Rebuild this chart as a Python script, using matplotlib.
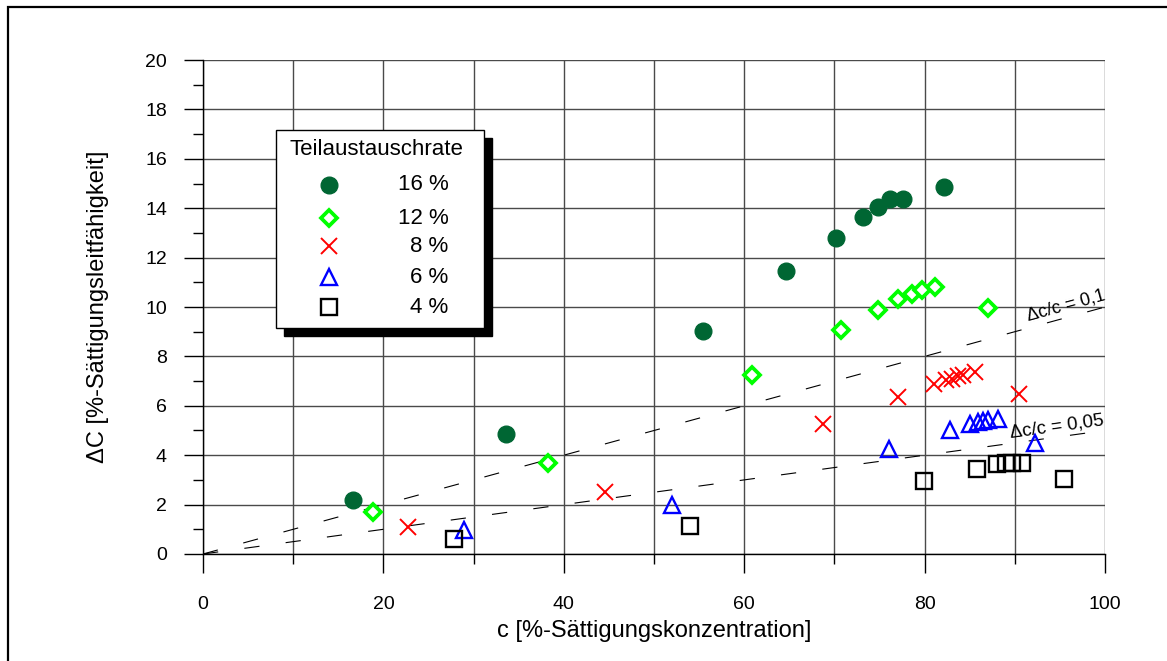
import numpy as np
import matplotlib.pyplot as plt
from matplotlib.patches import Rectangle
from matplotlib.ticker import MultipleLocator

plt.rcParams['font.family'] = ['Liberation Sans', 'DejaVu Sans']
plt.rcParams['lines.scale_dashes'] = False

# Teilaustauschrate 16 %
c16 = [16.6, 33.6, 55.4, 64.6, 70.2, 73.2, 74.8, 76.2, 77.6, 82.1]
d16 = [2.19, 4.86, 9.03, 11.46, 12.79, 13.64, 14.04, 14.36, 14.38, 14.87]

# Teilaustauschrate 12 %
c12 = [18.8, 38.2, 60.9, 70.7, 74.8, 77.1, 78.6, 79.7, 81.2, 87.0]
d12 = [1.70, 3.70, 7.25, 9.06, 9.88, 10.32, 10.53, 10.69, 10.82, 9.95]

# Teilaustauschrate 8 %
c8 = [22.7, 44.6, 68.7, 77.0, 81.0, 82.4, 83.0, 83.7, 84.3, 85.6, 90.5]
d8 = [1.11, 2.50, 5.25, 6.37, 6.90, 7.05, 7.10, 7.20, 7.25, 7.35, 6.48]

# Teilaustauschrate 6 %
c6 = [28.9, 52.0, 76.1, 82.8, 85.0, 85.9, 86.5, 87.0, 88.1, 92.2]
d6 = [0.97, 1.98, 4.25, 5.02, 5.27, 5.34, 5.38, 5.44, 5.48, 4.48]

# Teilaustauschrate 4 %
c4 = [27.8, 54.0, 79.9, 85.8, 88.0, 89.0, 89.7, 90.8, 95.4]
d4 = [0.59, 1.13, 2.96, 3.46, 3.64, 3.68, 3.69, 3.70, 3.02]

# reference lines dC = ratio * c
ratios = [0.1, 0.05]
ratio_labels = ['\u0394c/c = 0,1', '\u0394c/c = 0,05']

legend_title = 'Teilaustauschrate'
legend_labels = ['16 %', '12 %', '8 %', '6 %', '4 %']

fig = plt.figure(figsize=(11.67, 6.61), dpi=100)
ax = fig.add_axes([0.1740, 0.1619, 0.7729, 0.7473])

# outer frame of the sheet
fig.patches.append(Rectangle((8 / 1167, -0.5), 1.2, 1.5 - 7 / 661,
                             transform=fig.transFigure, fill=False,
                             edgecolor='black', lw=1.6))

styles = [
    dict(marker='o', ls='none', ms=12, mfc='#006633', mec='#006633'),
    dict(marker='D', ls='none', ms=8.3, mfc='white', mec='#00ff00', mew=2.7),
    dict(marker='x', ls='none', ms=12, mec='#ff0000', mew=1.4),
    dict(marker='^', ls='none', ms=11, mfc='none', mec='#0000ff', mew=1.7),
    dict(marker='s', ls='none', ms=11.5, mfc='none', mec='black', mew=1.7),
]
series = [(c16, d16), (c12, d12), (c8, d8), (c6, d6), (c4, d4)]
for (xs, ys), st in zip(series, styles):
    ax.plot(xs, ys, zorder=3, clip_on=False, **st)

xline = np.array([0, 100])
for r in ratios:
    ax.plot(xline, r * xline, color='black', lw=0.8, dashes=(11, 19), zorder=2)
ax.text(91.6, 9.3, ratio_labels[0], rotation=15.3, rotation_mode='anchor',
        ha='left', va='bottom', fontsize=13, clip_on=False)
ax.text(89.6, 4.55, ratio_labels[1], rotation=7.8, rotation_mode='anchor',
        ha='left', va='bottom', fontsize=13.5, clip_on=False)

ax.set_xlim(0, 100)
ax.set_ylim(0, 20)
ax.xaxis.set_major_locator(MultipleLocator(20))
ax.xaxis.set_minor_locator(MultipleLocator(10))
ax.yaxis.set_major_locator(MultipleLocator(2))
ax.yaxis.set_minor_locator(MultipleLocator(1))
ax.grid(True, which='major', color='#4a4a4a', lw=1.0)
ax.grid(True, which='minor', axis='x', color='#4a4a4a', lw=1.0)
ax.set_axisbelow(True)
for side in ['top', 'right']:
    ax.spines[side].set_visible(False)
for side in ['left', 'bottom']:
    ax.spines[side].set_linewidth(1.0)
ax.tick_params(which='major', length=14, width=1.0, labelsize=14)
ax.tick_params(which='minor', length=7.5, width=1.0)
ax.tick_params(axis='x', which='major', pad=16)
ax.tick_params(axis='y', which='major', pad=12)

ax.set_xlabel('c [%-Sättigungskonzentration]', fontsize=17, labelpad=5)
ax.set_ylabel('\u0394C [%-Sättigungsleitfähigkeit]', fontsize=17, labelpad=26)

# legend box with drop shadow
lx, ly, lw_, lh = 0.0809, 0.4575, 0.2306, 0.4008
ax.add_patch(Rectangle((lx + 0.009, ly - 0.016), lw_, lh, transform=ax.transAxes,
                       facecolor='black', edgecolor='black', zorder=5, clip_on=False))
ax.add_patch(Rectangle((lx, ly), lw_, lh, transform=ax.transAxes,
                       facecolor='white', edgecolor='black', lw=1.0, zorder=6, clip_on=False))
ax.text(0.192, 0.818, legend_title, transform=ax.transAxes, ha='center', va='center',
        fontsize=16, zorder=7)
row_y = [0.747, 0.680, 0.623, 0.560, 0.499]
for yy, lab, st in zip(row_y, legend_labels, styles):
    ax.plot([0.140], [yy], transform=ax.transAxes, zorder=7, clip_on=False, **st)
    ax.text(0.272, yy, lab, transform=ax.transAxes, ha='right', va='center',
            fontsize=16, zorder=7)

fig.savefig('out.png', dpi=100)
